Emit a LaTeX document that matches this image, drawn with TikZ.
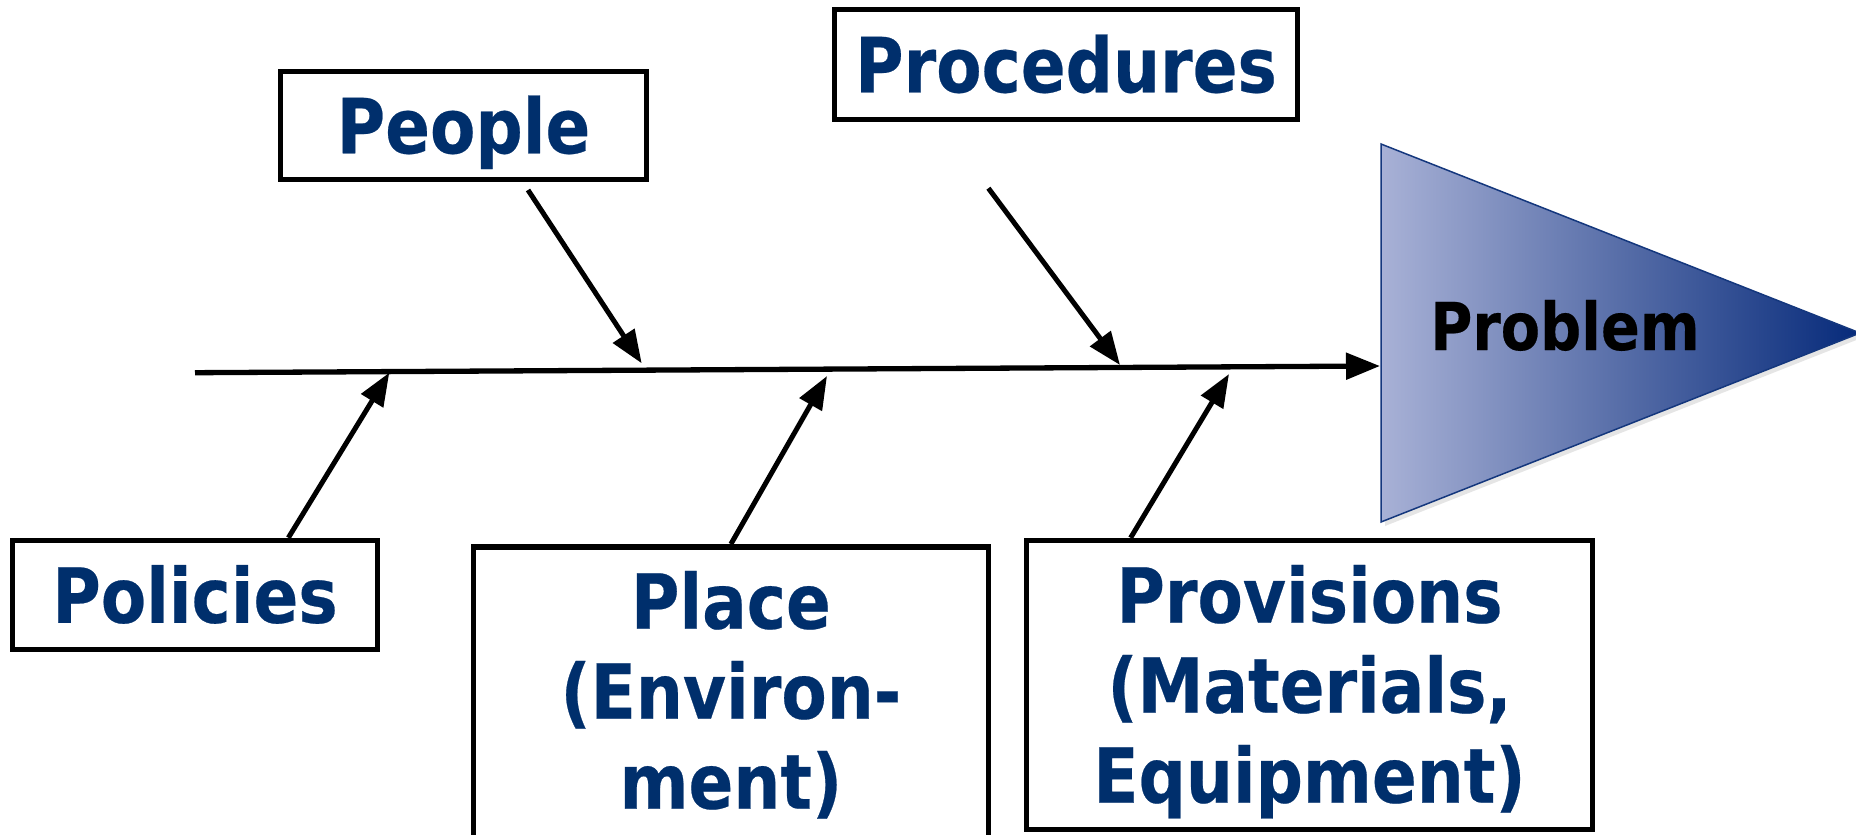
\documentclass[tikz,border=0pt]{standalone}
\usepackage{fontspec}
\usetikzlibrary{arrows.meta,shadows,calc}

\newfontfamily\lblfont{DejaVu Sans Bold}[FakeStretch=0.87,FakeBold=0.3]

\definecolor{lblblue}{RGB}{0,47,108}
\definecolor{headL}{RGB}{168,177,214}
\definecolor{headR}{RGB}{6,42,122}
\definecolor{headEdge}{RGB}{20,55,125}

% centred lines with a fixed baseline distance; baseline = first line
\newcommand\linestack[1]{\vtop{\baselineskip=90pt\lineskiplimit=-1000pt\halign{\hfil##\hfil\cr#1\crcr}}}

\tikzset{
  cause/.style={draw=black, line width=5.5pt, fill=white, rectangle, inner sep=0pt,
    text=lblblue, font=\lblfont\fontsize{76}{90}\selectfont,
    text height=55.5pt, text depth=0pt},
  bone/.style={line width=5pt, -{Triangle[length=33pt,width=25pt]}},
  spine/.style={line width=5.3pt, -{Triangle[length=34pt,width=26pt]}},
  fishhead/.style={left color=headL, right color=headR, draw=headEdge, line width=1.5pt,
    drop shadow={shadow xshift=4pt, shadow yshift=-4pt, opacity=0.2}},
}

\begin{document}
\begin{tikzpicture}[x=1pt,y=-1pt]
\clip (0,0) rectangle (1856,835);
\fill[white] (0,0) rectangle (1856,835);

% head of the fish: the problem
\coordinate (headtop) at (1381,144);
\coordinate (headbot) at (1381,522);
\coordinate (headtip) at (1860,333);
\path[fishhead] (headtop) -- (headtip) -- (headbot) -- cycle;
\node[font=\lblfont\fontsize{66}{66}\selectfont, text=black, inner sep=0pt,
      text height=48pt, text depth=0pt] (problem) at (1565,326) {Problem};

% backbone
\coordinate (tail) at (195,372.7);
\coordinate (mouth) at (1380,366);
\draw[spine] (tail) -- (mouth);

% cause boxes
\node[cause, minimum width=366pt, minimum height=108pt] (people) at (463.5,125.5) {People};
\node[cause, minimum width=463pt, minimum height=110pt] (procedures) at (1066,64.5) {Procedures};
\node[cause, minimum width=365pt, minimum height=109pt] (policies) at (195,595) {Policies};
\node[cause, minimum width=515.3pt, minimum height=303.2pt, text depth=195pt] (place)
  at (730.9,698.4) {\linestack{Place\cr (Environ-\cr ment)}};
\node[cause, minimum width=566pt, minimum height=288.7pt, text depth=180pt] (provisions)
  at (1309.5,684.9) {\linestack{Provisions\cr (Materials,\cr Equipment)}};

% bones from the causes onto the backbone
\coordinate (peoplefoot) at (528,190);
\coordinate (peopletip) at (641.7,363.3);
\coordinate (procfoot) at (988.4,188.2);
\coordinate (proctip) at (1120,365);
\coordinate (poltip) at (389.3,372.7);
\coordinate (placetip) at (827,376);
\coordinate (provtip) at (1229,374);

\draw[bone] (peoplefoot) -- (peopletip);
\draw[bone] (procfoot) -- (proctip);
\draw[bone] ($(policies.north west)!0.752!(policies.north east)$) -- (poltip);
\draw[bone] (place.north) -- (placetip);
\draw[bone] ($(provisions.north west)!0.187!(provisions.north east)$) -- (provtip);
\end{tikzpicture}
\end{document}
